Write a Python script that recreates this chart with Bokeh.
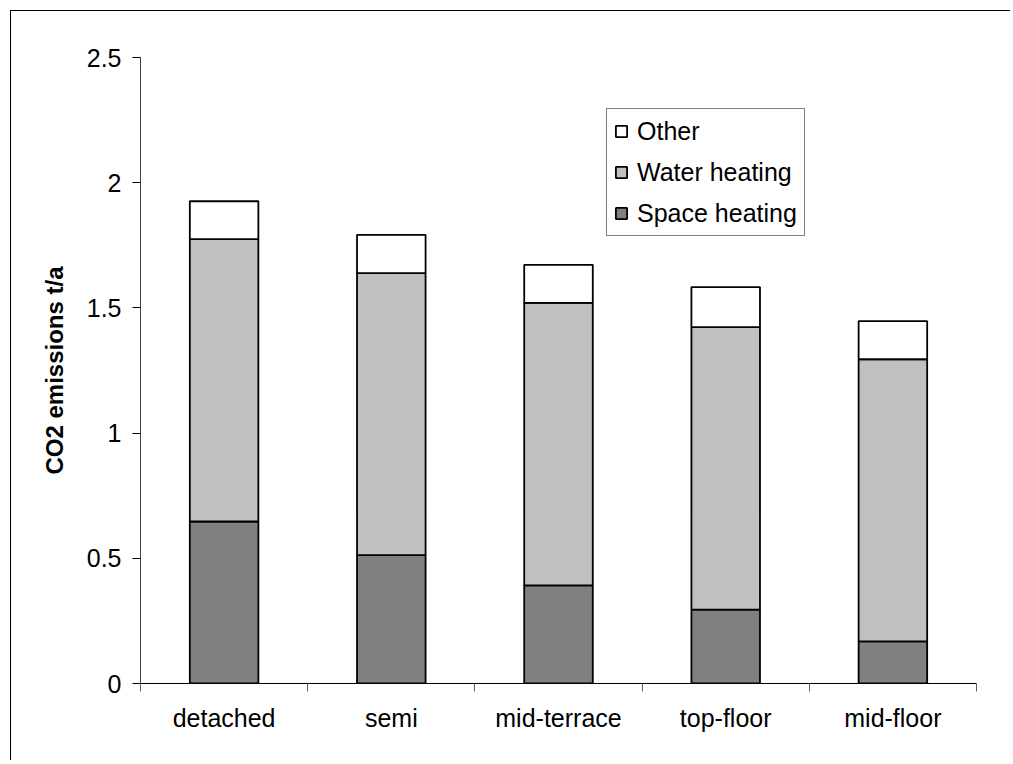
from bokeh.plotting import figure
from bokeh.models import (ColumnDataSource, Range1d, FixedTicker, Legend, LegendItem)
from bokeh.embed import file_html
from bokeh.resources import INLINE

categories = ["detached", "semi", "mid-terrace", "top-floor", "mid-floor"]
space_heating = [0.647, 0.513, 0.392, 0.295, 0.168]
water_heating = [1.128, 1.126, 1.128, 1.128, 1.127]
other = [0.151, 0.153, 0.152, 0.160, 0.152]
series_names = ["Space heating", "Water heating", "Other"]
y_ticks = [0, 0.5, 1, 1.5, 2, 2.5]
y_tick_labels = ["0", "0.5", "1", "1.5", "2", "2.5"]

FONT = "Liberation Sans"

xs = [i + 0.5 for i in range(len(categories))]
source = ColumnDataSource(dict(x=xs, space=space_heating, water=water_heating, other=other))

p = figure(width=1000, height=750, output_backend="svg", toolbar_location=None,
           x_range=Range1d(0, len(categories)), y_range=Range1d(0, 2.5),
           min_border_left=129, min_border_right=35, min_border_top=46, min_border_bottom=78)
p.styles = {"border-left": "1px solid #000", "border-top": "1px solid #000",
            "margin-left": "10px", "margin-top": "10px"}
p.outline_line_color = None
p.xgrid.grid_line_color = None
p.ygrid.grid_line_color = None
p.background_fill_color = "white"
p.border_fill_color = "white"

rs = p.vbar_stack(["space", "water", "other"], x="x", width=0.41, source=source,
                  fill_color=["#808080", "#C0C0C0", "#FFFFFF"],
                  line_color="black", line_width=1.8)

# x axis
xa = p.xaxis[0]
xa.ticker = FixedTicker(ticks=xs, minor_ticks=list(range(len(categories) + 1)))
xa.major_label_overrides = {x: c for x, c in zip(xs, categories)}
xa.major_tick_out = 0
xa.major_tick_in = 0
xa.major_tick_line_color = None
xa.minor_tick_out = 8
xa.minor_tick_in = 0
xa.minor_tick_line_color = "#606060"
xa.axis_line_color = "black"
xa.major_label_text_font = FONT
xa.major_label_text_font_size = "25px"
xa.major_label_text_color = "black"
xa.major_label_standoff = 12

# y axis
ya = p.yaxis[0]
ya.ticker = FixedTicker(ticks=y_ticks, minor_ticks=[])
ya.major_label_overrides = {t: l for t, l in zip(y_ticks, y_tick_labels)}
ya.major_tick_out = 8
ya.major_tick_in = 0
ya.major_tick_line_color = "black"
ya.axis_line_color = "#404040"
ya.major_label_text_font = FONT
ya.major_label_text_font_size = "25px"
ya.major_label_text_color = "black"
ya.major_label_standoff = 11
ya.axis_label = "CO2 emissions t/a"
ya.axis_label_text_font = FONT
ya.axis_label_text_font_size = "24px"
ya.axis_label_text_font_style = "bold"
ya.axis_label_text_color = "black"
ya.axis_label_standoff = 16

legend = Legend(items=[LegendItem(label=series_names[2], renderers=[rs[2]]),
                       LegendItem(label=series_names[1], renderers=[rs[1]]),
                       LegendItem(label=series_names[0], renderers=[rs[0]])],
                location=(466, 447))
legend.label_text_font = FONT
legend.label_text_font_size = "25px"
legend.label_text_color = "black"
legend.glyph_width = 14
legend.glyph_height = 14
legend.label_height = 30
legend.spacing = 11
legend.padding = 7
legend.margin = 0
legend.label_standoff = 9
legend.border_line_color = "black"
legend.border_line_width = 1
legend.background_fill_color = "white"
legend.background_fill_alpha = 1
p.add_layout(legend, "center")

open("out.html", "w").write(file_html(p, INLINE))
